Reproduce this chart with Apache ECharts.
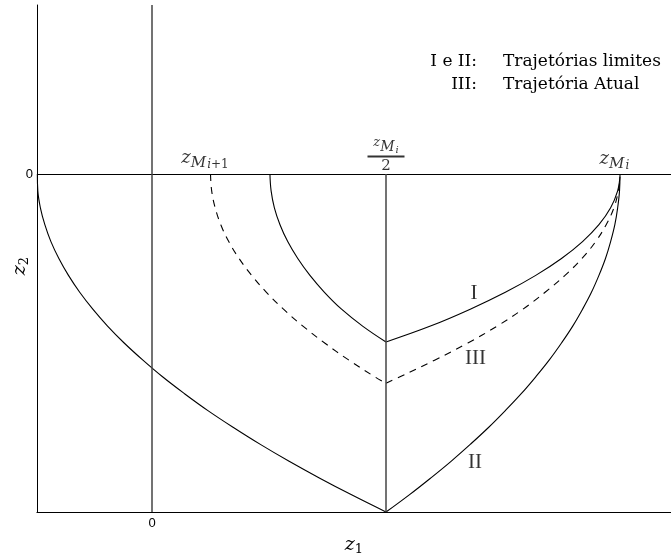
<!DOCTYPE html>
<html>
<head>
<meta charset="utf-8">
<script src="https://cdn.jsdelivr.net/npm/echarts@6/dist/echarts.min.js"></script>
<style>
  html, body { margin: 0; padding: 0; background: #fff; }
  #chart { width: 671px; height: 557px; }
</style>
</head>
<body>
<div id="chart"></div>
<script>
// Phase plane (z1, z2): limit trajectories I and II, current trajectory III.
// Each trajectory is split in its two arcs, which meet on the line z1 = zMi/2.

// Axis extents
const z1Range = [-0.4915, 2.218];
const z2Range = [-1, 0.5];
const z1Ticks = [0];
const z2Ticks = [0];
const tickText = '0';

// Trajectory II (outer limit): [z1, z2]
const limitIILeft = [
  [-0.49, 0], [-0.488, -0.05], [-0.477, -0.1], [-0.458, -0.15], [-0.432, -0.2],
  [-0.398, -0.25], [-0.357, -0.3], [-0.309, -0.35], [-0.253, -0.4], [-0.19, -0.45],
  [-0.119, -0.5], [-0.04, -0.55], [0.045, -0.6], [0.139, -0.65], [0.239, -0.7],
  [0.348, -0.75], [0.463, -0.8], [0.586, -0.85], [0.717, -0.9], [0.855, -0.95], [1.0, -1.0]
];
const limitIIRight = [
  [1.0, -1.0], [1.098, -0.95], [1.19, -0.9], [1.278, -0.85], [1.36, -0.8],
  [1.438, -0.75], [1.51, -0.7], [1.578, -0.65], [1.64, -0.6], [1.698, -0.55],
  [1.75, -0.5], [1.798, -0.45], [1.84, -0.4], [1.878, -0.35], [1.91, -0.3],
  [1.938, -0.25], [1.96, -0.2], [1.978, -0.15], [1.99, -0.1], [1.998, -0.05], [2.0, 0]
];

// Trajectory I (inner limit)
const limitILeft = [
  [0.504, 0], [0.509, -0.05], [0.523, -0.1], [0.547, -0.15], [0.58, -0.2],
  [0.623, -0.25], [0.675, -0.3], [0.737, -0.35], [0.81, -0.4], [0.9, -0.45], [1.0, -0.497]
];
const limitIRight = [
  [1.0, -0.497], [1.19, -0.45], [1.36, -0.4], [1.51, -0.35], [1.64, -0.3],
  [1.75, -0.25], [1.84, -0.2], [1.91, -0.15], [1.96, -0.1], [1.99, -0.05], [2.0, -0.008]
];

// Trajectory III (current)
const actualLeft = [
  [0.25, 0], [0.255, -0.05], [0.27, -0.1], [0.294, -0.15], [0.328, -0.2],
  [0.372, -0.25], [0.426, -0.3], [0.489, -0.35], [0.562, -0.4], [0.645, -0.45],
  [0.738, -0.5], [0.84, -0.55], [0.952, -0.6], [1.0, -0.619]
];
const actualRight = [
  [1.0, -0.619], [1.06, -0.6], [1.21, -0.55], [1.35, -0.5], [1.475, -0.45],
  [1.585, -0.4], [1.68, -0.35], [1.765, -0.3], [1.837, -0.25], [1.896, -0.2],
  [1.941, -0.15], [1.974, -0.1], [1.993, -0.05], [2.0, -0.01]
];

const serif = '"DejaVu Serif", serif';
const roman = '"Liberation Serif", serif';

const chart = echarts.init(document.getElementById('chart'), null, { renderer: 'canvas' });

function curve(name, data, dashed) {
  return {
    name: name,
    type: 'line',
    data: data,
    smooth: 0.4,
    symbol: 'none',
    silent: true,
    lineStyle: { color: '#000', width: 1.1, type: dashed ? [7, 6] : 'solid' },
    z: 3
  };
}

// rich styles for subscripted symbols
const subRich = {
  z: { fontFamily: serif, fontStyle: 'italic', fontSize: 18, lineHeight: 24, verticalAlign: 'top', padding: [0, 0, 0, 0], color: '#000' },
  m: { fontFamily: serif, fontStyle: 'italic', fontSize: 15, lineHeight: 24, verticalAlign: 'top', padding: [7, 0, 0, 0], color: '#000' },
  i: { fontFamily: serif, fontStyle: 'italic', fontSize: 12, lineHeight: 24, verticalAlign: 'top', padding: [10, 0, 0, 1], color: '#000' },
  n: { fontFamily: serif, fontSize: 12, lineHeight: 24, verticalAlign: 'top', padding: [10, 0, 0, 0], color: '#000' }
};
const fracRich = {
  fz: { fontFamily: serif, fontStyle: 'italic', fontSize: 13, lineHeight: 18, verticalAlign: 'top', padding: [0, 0, 0, 0], color: '#000' },
  fm: { fontFamily: serif, fontStyle: 'italic', fontSize: 14, lineHeight: 18, verticalAlign: 'top', padding: [4, 0, 0, 0], color: '#000' },
  fi: { fontFamily: serif, fontStyle: 'italic', fontSize: 10, lineHeight: 18, verticalAlign: 'top', padding: [9, 0, 0, 1], color: '#000' },
  bar: { width: 37, height: 2, lineHeight: 4, fontSize: 2, backgroundColor: '#000' },
  two: { fontFamily: serif, fontSize: 15, lineHeight: 15, color: '#000' }
};
const nameRich = {
  v: { fontFamily: serif, fontStyle: 'italic', fontSize: 19, lineHeight: 20, verticalAlign: 'top', padding: [0, 0, 0, 0], color: '#000' },
  s: { fontFamily: serif, fontSize: 13, lineHeight: 20, verticalAlign: 'top', padding: [7, 0, 0, 0], color: '#000' }
};

const legendFont = '17px "DejaVu Serif"';

const option = {
  animation: false,
  backgroundColor: '#fff',
  grid: { left: 37, right: 0, top: 5, bottom: 45, outerBoundsMode: 'none' },
  xAxis: {
    type: 'value',
    min: z1Range[0],
    max: z1Range[1],
    name: '{v|z}{s|1}',
    nameLocation: 'middle',
    nameGap: 24,
    nameMoveOverlap: false,
    nameTextStyle: { rich: nameRich },
    axisLine: { onZero: false, lineStyle: { color: '#000', width: 1.2 } },
    axisTick: { show: false },
    splitLine: { show: false },
    axisLabel: {
      customValues: z1Ticks,
      formatter: function () { return tickText; },
      margin: 5,
      fontFamily: '"Liberation Sans", sans-serif',
      fontSize: 13,
      color: '#000'
    }
  },
  yAxis: {
    type: 'value',
    min: z2Range[0],
    max: z2Range[1],
    name: '{v|z}{s|2}',
    nameLocation: 'middle',
    nameRotate: 90,
    nameGap: 6,
    nameMoveOverlap: false,
    nameTextStyle: { rich: nameRich, padding: [0, 15, 0, 0] },
    axisLine: { onZero: false, lineStyle: { color: '#000', width: 1 } },
    axisTick: { show: false },
    splitLine: { show: false },
    axisLabel: {
      customValues: z2Ticks,
      formatter: function () { return tickText; },
      margin: 4,
      fontFamily: '"Liberation Sans", sans-serif',
      fontSize: 13,
      color: '#000'
    }
  },
  graphic: [
    { type: 'text', x: 477, y: 62, style: { text: 'I e II:', font: legendFont, fill: '#000', textAlign: 'right', textVerticalAlign: 'middle' } },
    { type: 'text', x: 503, y: 62, style: { text: 'Trajetórias limites', font: legendFont, fill: '#000', textAlign: 'left', textVerticalAlign: 'middle' } },
    { type: 'text', x: 477, y: 85, style: { text: 'III:', font: legendFont, fill: '#000', textAlign: 'right', textVerticalAlign: 'middle' } },
    { type: 'text', x: 503, y: 85, style: { text: 'Trajetória Atual', font: legendFont, fill: '#000', textAlign: 'left', textVerticalAlign: 'middle' } }
  ],
  series: [
    Object.assign(curve('II', limitIILeft, false), {
      markLine: {
        silent: true,
        symbol: ['none', 'none'],
        label: { show: false },
        emphasis: { disabled: true },
        data: [
          { yAxis: 0, lineStyle: { color: '#000', width: 1, type: 'solid' } },
          { xAxis: 0, lineStyle: { color: '#444', width: 1.5, type: 'solid' } },
          [
            { coord: [1, 0], lineStyle: { color: '#444', width: 1.5, type: 'solid' } },
            { coord: [1, -1] }
          ]
        ]
      }
    }),
    curve('II', limitIIRight, false),
    curve('I', limitILeft, false),
    curve('I', limitIRight, false),
    curve('III', actualLeft, true),
    curve('III', actualRight, true),
    {
      name: 'labels',
      type: 'scatter',
      symbolSize: 1,
      silent: true,
      itemStyle: { color: 'rgba(0,0,0,0)' },
      label: { show: true, position: 'inside', color: '#000', fontFamily: roman, fontSize: 21 },
      data: [
        { value: [1.376, -0.3536], label: { formatter: 'I' } },
        { value: [1.382, -0.5444], label: { formatter: 'III' } },
        { value: [1.38, -0.8536], label: { formatter: 'II' } },
        { value: [0.2265, 0.0385], label: { formatter: '{z|z}{m|M}{i|i}{n|+1}', rich: subRich } },
        { value: [1.976, 0.0355], label: { formatter: '{z|z}{m|M}{i|i}', rich: subRich } },
        { value: [1.0, 0.0562], label: { formatter: '{fz|z}{fm|M}{fi|i}\n{bar| }\n{two|2}', rich: fracRich } }
      ],
      z: 5
    }
  ]
};

chart.setOption(option);
</script>
</body>
</html>
